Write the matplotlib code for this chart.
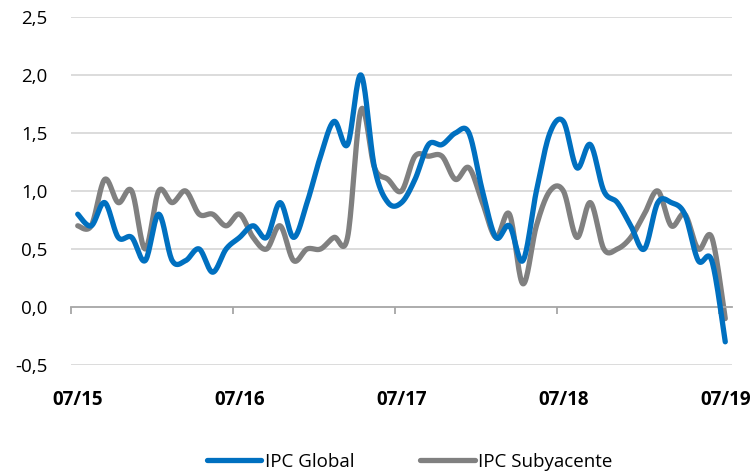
import numpy as np
import matplotlib
matplotlib.use("Agg")
import matplotlib.pyplot as plt
from matplotlib.ticker import FixedLocator, NullFormatter, FixedFormatter

plt.rcParams['font.family'] = ['Open Sans', 'DejaVu Sans']

# monthly data, 07/15 .. 07/19
ipc_global = [0.8, 0.7, 0.9, 0.6, 0.6, 0.4, 0.8, 0.4, 0.4, 0.5, 0.3, 0.5,
              0.6, 0.7, 0.6, 0.9, 0.6, 0.9, 1.3, 1.6, 1.4, 2.0, 1.2, 0.9,
              0.9, 1.1, 1.4, 1.4, 1.5, 1.5, 1.0, 0.6, 0.7, 0.4, 1.0, 1.5,
              1.6, 1.2, 1.4, 1.0, 0.9, 0.7, 0.5, 0.9, 0.9, 0.8, 0.4, 0.4,
              -0.3]
ipc_subyacente = [0.7, 0.7, 1.1, 0.9, 1.0, 0.5, 1.0, 0.9, 1.0, 0.8, 0.8, 0.7,
                  0.8, 0.6, 0.5, 0.7, 0.4, 0.5, 0.5, 0.6, 0.6, 1.7, 1.2, 1.1,
                  1.0, 1.3, 1.3, 1.3, 1.1, 1.2, 0.9, 0.6, 0.8, 0.2, 0.7, 1.0,
                  1.0, 0.6, 0.9, 0.5, 0.5, 0.6, 0.8, 1.0, 0.7, 0.8, 0.5, 0.6,
                  -0.1]
x_labels = ['07/15', '07/16', '07/17', '07/18', '07/19']
y_ticks = [-0.5, 0.0, 0.5, 1.0, 1.5, 2.0, 2.5]


def smooth(y, n=20):
    # excel-like smoothed line (bezier, control points from neighbours)
    y = np.asarray(y, float)
    x = np.arange(len(y), dtype=float)
    px = np.concatenate([[x[0]], x, [x[-1]]])
    py = np.concatenate([[y[0]], y, [y[-1]]])
    xs, ys = [], []
    t = np.linspace(0, 1, n, endpoint=False)
    for i in range(len(y) - 1):
        p0 = np.array([x[i], y[i]])
        p3 = np.array([x[i + 1], y[i + 1]])
        p1 = p0 + (np.array([px[i + 2], py[i + 2]]) - np.array([px[i], py[i]])) / 6
        p2 = p3 - (np.array([px[i + 3], py[i + 3]]) - np.array([px[i + 1], py[i + 1]])) / 6
        b = ((1 - t) ** 3)[:, None] * p0 + (3 * (1 - t) ** 2 * t)[:, None] * p1 \
            + (3 * (1 - t) * t ** 2)[:, None] * p2 + (t ** 3)[:, None] * p3
        xs.append(b[:, 0])
        ys.append(b[:, 1])
    xs.append([x[-1]])
    ys.append([y[-1]])
    return np.concatenate(xs), np.concatenate(ys)


fig = plt.figure(figsize=(7.55, 4.75), dpi=100)
ax = fig.add_axes([71 / 755, 1 - 365 / 475, (732 - 71) / 755, (365 - 17) / 475])

ax.set_xlim(-0.5, len(ipc_global) - 0.5)
ax.set_ylim(-0.5, 2.5)

for yv in y_ticks:
    if yv != 0:
        ax.axhline(yv, color='#D9D9D9', lw=1.3, zorder=0)

gx, gy = smooth(ipc_global)
sx, sy = smooth(ipc_subyacente)
ax.plot(gx, gy, color='#0070C0', lw=3.8, solid_capstyle='round', label='IPC Global', zorder=3)
ax.plot(sx, sy, color='#808080', lw=3.8, solid_capstyle='round', label='IPC Subyacente', zorder=2)

for s in ['top', 'right', 'left']:
    ax.spines[s].set_visible(False)
ax.spines['bottom'].set_position(('data', 0))
ax.spines['bottom'].set_color('#A6A6A6')
ax.spines['bottom'].set_linewidth(1.3)

ax.set_yticks(y_ticks)
ax.set_yticklabels([f'{v:.1f}'.replace('.', ',') for v in y_ticks])
ax.tick_params(axis='y', length=0, pad=17, labelsize=13.5, colors='black')

label_pos = [12 * k for k in range(len(x_labels))]
ax.xaxis.set_major_locator(FixedLocator([p - 0.5 for p in label_pos]))
ax.xaxis.set_major_formatter(NullFormatter())
ax.xaxis.set_minor_locator(FixedLocator(label_pos))
ax.xaxis.set_minor_formatter(FixedFormatter(x_labels))
ax.tick_params(axis='x', which='major', length=5, width=1.3, color='#A6A6A6', direction='out')
ax.tick_params(axis='x', which='minor', length=0, pad=60, labelsize=13.5)
for lab in ax.xaxis.get_minorticklabels():
    lab.set_fontweight('bold')

fig.legend(loc='center', bbox_to_anchor=(0.543, 1 - 462 / 475), ncol=2, frameon=False,
           fontsize=13.5, handlelength=2.9, handletextpad=0.2, columnspacing=3.5)

fig.savefig('out.png', dpi=100)
